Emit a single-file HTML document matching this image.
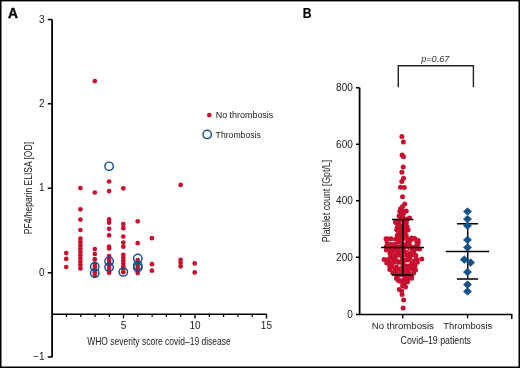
<!DOCTYPE html>
<html><head><meta charset="utf-8"><style>
html,body{margin:0;padding:0;background:#fff;}
svg{display:block;will-change:transform;}
text{font-family:"Liberation Sans",sans-serif;}
</style></head><body>
<svg width="520" height="368" viewBox="0 0 520 368">
<rect x="0" y="0" width="520" height="368" fill="#fff"/>
<!-- border -->
<rect x="0" y="0" width="520" height="1.4" fill="#000"/>
<rect x="0" y="0" width="1.5" height="368" fill="#000"/>
<rect x="518.5" y="0" width="1.5" height="368" fill="#000"/>
<rect x="0" y="366.5" width="520" height="1.5" fill="#000"/>
<text x="8" y="18.1" font-size="14" font-weight="bold" stroke="#000" stroke-width="0.35" textLength="10" lengthAdjust="spacingAndGlyphs">A</text>
<text x="302.7" y="17.8" font-size="14" font-weight="bold" stroke="#000" stroke-width="0.2" textLength="8.8" lengthAdjust="spacingAndGlyphs">B</text>
<!-- Panel A axes -->
<g stroke="#000" fill="none">
<path d="M52.1 19.5V357.2" stroke-width="1.8"/>
<path d="M47.8 19.5H52.1M47.8 103.8H52.1M47.8 188.2H52.1M47.8 272.7H52.1M47.8 357.1H52.1" stroke-width="1.5"/>
<path d="M52.1 314.3H266.6" stroke-width="1.6"/>
<path d="M123.5 314H123.5V318.4M195 314V318.4M266.5 314V318.4" stroke-width="1.4"/>
<path d="M66.5 314V317.1M80.8 314V317.1M95.1 314V317.1M109.3 314V317.1M137.8 314V317.1M152.1 314V317.1M166.4 314V317.1M180.7 314V317.1M209.3 314V317.1M223.6 314V317.1M237.9 314V317.1M252.2 314V317.1" stroke-width="1.2"/>
</g>
<g font-size="10" fill="#1a1a1a" text-anchor="end">
<text x="44.6" y="22.6">3</text>
<text x="44.6" y="106.9">2</text>
<text x="44.6" y="191.3">1</text>
<text x="44.6" y="275.8">0</text>
<text x="44.6" y="360.2">−1</text>
</g>
<g font-size="10" fill="#1a1a1a" text-anchor="middle">
<text x="123.6" y="329.3">5</text>
<text x="195.1" y="329.3">10</text>
<text x="266.4" y="329.3">15</text>
</g>
<text x="87.2" y="344.9" font-size="11.4" fill="#1a1a1a" textLength="143.6" lengthAdjust="spacingAndGlyphs">WHO severity score covid–19 disease</text>
<text transform="translate(31.9 234.2) rotate(-90)" font-size="11.4" fill="#1a1a1a" textLength="92.2" lengthAdjust="spacingAndGlyphs">PF4/heparin ELISA [OD]</text>
<text x="215.7" y="117.9" font-size="9" fill="#1a1a1a" textLength="57.6" lengthAdjust="spacingAndGlyphs">No thrombosis</text>
<text x="215.6" y="137.7" font-size="9" fill="#1a1a1a" textLength="45.2" lengthAdjust="spacingAndGlyphs">Thrombosis</text>
<!-- Panel B axes -->
<g stroke="#000" fill="none">
<path d="M359.6 87.7V314.6" stroke-width="1.8"/>
<path d="M356 87.7H359.6M356 144.2H359.6M356 200.7H359.6M356 257.2H359.6M356 314.5H359.6" stroke-width="1.5"/>
<path d="M358.8 314.5H511.8V319" stroke-width="1.5"/>
<path d="M402.8 314.5V318.2M467.6 314.5V318.2" stroke-width="1.4"/>
</g>
<g font-size="10" fill="#1a1a1a" text-anchor="end">
<text x="352.8" y="91">800</text>
<text x="352.8" y="147.5">600</text>
<text x="352.8" y="204">400</text>
<text x="352.8" y="260.5">200</text>
<text x="352.8" y="317.6">0</text>
</g>
<text x="371.7" y="329.2" font-size="9.7" fill="#1a1a1a" textLength="62.2" lengthAdjust="spacingAndGlyphs">No thrombosis</text>
<text x="443.3" y="329.1" font-size="9.7" fill="#1a1a1a" textLength="49" lengthAdjust="spacingAndGlyphs">Thrombosis</text>
<text x="400.6" y="344.3" font-size="11.4" fill="#1a1a1a" textLength="70.4" lengthAdjust="spacingAndGlyphs">Covid–19 patients</text>
<text transform="translate(330.2 242.2) rotate(-90)" font-size="11.4" fill="#1a1a1a" textLength="82.4" lengthAdjust="spacingAndGlyphs">Platelet count [Gpt/L]</text>
<!-- p bracket -->
<path d="M398.3 87.3V65.8H473.4V87.3" stroke="#222" stroke-width="1.4" fill="none"/>
<text x="421.2" y="62.4" font-size="9" font-style="italic" fill="#333" textLength="28.2" lengthAdjust="spacingAndGlyphs">p=0.67</text>
<!-- dots -->
<circle cx="66.2" cy="253.1" r="2.35" fill="#c8102e"/>
<circle cx="66.2" cy="258.9" r="2.35" fill="#c8102e"/>
<circle cx="66.2" cy="267.0" r="2.35" fill="#c8102e"/>
<circle cx="80.4" cy="188.1" r="2.35" fill="#c8102e"/>
<circle cx="80.4" cy="209.3" r="2.35" fill="#c8102e"/>
<circle cx="80.4" cy="219.6" r="2.35" fill="#c8102e"/>
<circle cx="80.4" cy="230.0" r="2.35" fill="#c8102e"/>
<circle cx="80.4" cy="238.7" r="2.35" fill="#c8102e"/>
<circle cx="80.4" cy="242.0" r="2.35" fill="#c8102e"/>
<circle cx="80.4" cy="245.3" r="2.35" fill="#c8102e"/>
<circle cx="80.4" cy="248.6" r="2.35" fill="#c8102e"/>
<circle cx="80.4" cy="251.9" r="2.35" fill="#c8102e"/>
<circle cx="80.4" cy="255.2" r="2.35" fill="#c8102e"/>
<circle cx="80.4" cy="258.5" r="2.35" fill="#c8102e"/>
<circle cx="80.4" cy="261.8" r="2.35" fill="#c8102e"/>
<circle cx="80.4" cy="265.1" r="2.35" fill="#c8102e"/>
<circle cx="80.4" cy="268.4" r="2.35" fill="#c8102e"/>
<circle cx="94.8" cy="81.1" r="2.35" fill="#c8102e"/>
<circle cx="94.8" cy="192.5" r="2.35" fill="#c8102e"/>
<circle cx="94.8" cy="249.1" r="2.35" fill="#c8102e"/>
<circle cx="94.8" cy="254.0" r="2.35" fill="#c8102e"/>
<circle cx="94.8" cy="259.2" r="2.35" fill="#c8102e"/>
<circle cx="94.8" cy="263.7" r="2.35" fill="#c8102e"/>
<circle cx="94.8" cy="266.7" r="2.35" fill="#c8102e"/>
<circle cx="94.8" cy="269.7" r="2.35" fill="#c8102e"/>
<circle cx="94.8" cy="272.5" r="2.35" fill="#c8102e"/>
<circle cx="94.8" cy="275.0" r="2.35" fill="#c8102e"/>
<circle cx="109.1" cy="181.5" r="2.35" fill="#c8102e"/>
<circle cx="109.1" cy="191.1" r="2.35" fill="#c8102e"/>
<circle cx="109.1" cy="219.4" r="2.35" fill="#c8102e"/>
<circle cx="109.1" cy="222.7" r="2.35" fill="#c8102e"/>
<circle cx="109.1" cy="228.8" r="2.35" fill="#c8102e"/>
<circle cx="109.1" cy="235.3" r="2.35" fill="#c8102e"/>
<circle cx="109.1" cy="246.5" r="2.35" fill="#c8102e"/>
<circle cx="109.1" cy="248.5" r="2.35" fill="#c8102e"/>
<circle cx="109.1" cy="256.0" r="2.35" fill="#c8102e"/>
<circle cx="109.1" cy="258.4" r="2.35" fill="#c8102e"/>
<circle cx="109.1" cy="260.8" r="2.35" fill="#c8102e"/>
<circle cx="109.1" cy="263.2" r="2.35" fill="#c8102e"/>
<circle cx="109.1" cy="265.6" r="2.35" fill="#c8102e"/>
<circle cx="109.1" cy="268.0" r="2.35" fill="#c8102e"/>
<circle cx="109.1" cy="270.4" r="2.35" fill="#c8102e"/>
<circle cx="109.1" cy="272.8" r="2.35" fill="#c8102e"/>
<circle cx="123.3" cy="188.3" r="2.35" fill="#c8102e"/>
<circle cx="123.3" cy="224.0" r="2.35" fill="#c8102e"/>
<circle cx="123.3" cy="228.2" r="2.35" fill="#c8102e"/>
<circle cx="123.3" cy="236.5" r="2.35" fill="#c8102e"/>
<circle cx="123.3" cy="242.6" r="2.35" fill="#c8102e"/>
<circle cx="123.3" cy="246.7" r="2.35" fill="#c8102e"/>
<circle cx="123.3" cy="254.8" r="2.35" fill="#c8102e"/>
<circle cx="123.3" cy="257.7" r="2.35" fill="#c8102e"/>
<circle cx="123.3" cy="260.6" r="2.35" fill="#c8102e"/>
<circle cx="123.3" cy="263.5" r="2.35" fill="#c8102e"/>
<circle cx="123.3" cy="266.4" r="2.35" fill="#c8102e"/>
<circle cx="123.3" cy="269.3" r="2.35" fill="#c8102e"/>
<circle cx="123.3" cy="272.2" r="2.35" fill="#c8102e"/>
<circle cx="137.7" cy="221.3" r="2.35" fill="#c8102e"/>
<circle cx="137.7" cy="243.2" r="2.35" fill="#c8102e"/>
<circle cx="137.7" cy="260.0" r="2.35" fill="#c8102e"/>
<circle cx="137.7" cy="263.6" r="2.35" fill="#c8102e"/>
<circle cx="137.7" cy="266.6" r="2.35" fill="#c8102e"/>
<circle cx="137.7" cy="269.6" r="2.35" fill="#c8102e"/>
<circle cx="137.7" cy="273.1" r="2.35" fill="#c8102e"/>
<circle cx="151.9" cy="238.2" r="2.35" fill="#c8102e"/>
<circle cx="151.9" cy="264.2" r="2.35" fill="#c8102e"/>
<circle cx="151.9" cy="270.7" r="2.35" fill="#c8102e"/>
<circle cx="180.6" cy="184.9" r="2.35" fill="#c8102e"/>
<circle cx="180.6" cy="259.8" r="2.35" fill="#c8102e"/>
<circle cx="180.6" cy="263.0" r="2.35" fill="#c8102e"/>
<circle cx="180.6" cy="266.3" r="2.35" fill="#c8102e"/>
<circle cx="194.7" cy="263.4" r="2.35" fill="#c8102e"/>
<circle cx="194.7" cy="272.4" r="2.35" fill="#c8102e"/>
<circle cx="94.8" cy="266.7" r="4.2" fill="none" stroke="#13518d" stroke-width="1.45"/>
<circle cx="94.8" cy="273.3" r="4.2" fill="none" stroke="#13518d" stroke-width="1.45"/>
<circle cx="109.1" cy="166.3" r="4.2" fill="none" stroke="#13518d" stroke-width="1.45"/>
<circle cx="109.1" cy="261.3" r="4.2" fill="none" stroke="#13518d" stroke-width="1.45"/>
<circle cx="109.1" cy="267.2" r="4.2" fill="none" stroke="#13518d" stroke-width="1.45"/>
<circle cx="123.3" cy="271.9" r="4.2" fill="none" stroke="#13518d" stroke-width="1.45"/>
<circle cx="137.8" cy="258.4" r="4.2" fill="none" stroke="#13518d" stroke-width="1.45"/>
<circle cx="137.8" cy="265.6" r="4.2" fill="none" stroke="#13518d" stroke-width="1.45"/>
<circle cx="137.8" cy="267.6" r="4.2" fill="none" stroke="#13518d" stroke-width="1.45"/>
<circle cx="209.3" cy="115.1" r="2.35" fill="#c8102e"/>
<circle cx="207.2" cy="134.4" r="4.2" fill="none" stroke="#13518d" stroke-width="1.45"/>
<circle cx="401.9" cy="136.5" r="2.5" fill="#c8102e"/>
<circle cx="403.4" cy="142.1" r="2.5" fill="#c8102e"/>
<circle cx="402.1" cy="155.0" r="2.5" fill="#c8102e"/>
<circle cx="403.5" cy="156.8" r="2.5" fill="#c8102e"/>
<circle cx="403.2" cy="166.9" r="2.5" fill="#c8102e"/>
<circle cx="401.9" cy="172.3" r="2.5" fill="#c8102e"/>
<circle cx="403.5" cy="178.3" r="2.5" fill="#c8102e"/>
<circle cx="401.8" cy="181.6" r="2.5" fill="#c8102e"/>
<circle cx="400.5" cy="187.2" r="2.5" fill="#c8102e"/>
<circle cx="404.3" cy="187.5" r="2.5" fill="#c8102e"/>
<circle cx="402.5" cy="196.8" r="2.5" fill="#c8102e"/>
<circle cx="404.7" cy="203.9" r="2.5" fill="#c8102e"/>
<circle cx="402.6" cy="206.4" r="2.5" fill="#c8102e"/>
<circle cx="400.6" cy="208.8" r="2.5" fill="#c8102e"/>
<circle cx="399.8" cy="211.5" r="2.5" fill="#c8102e"/>
<circle cx="402.5" cy="210.4" r="2.5" fill="#c8102e"/>
<circle cx="406.3" cy="211.0" r="2.5" fill="#c8102e"/>
<circle cx="403.6" cy="213.2" r="2.5" fill="#c8102e"/>
<circle cx="399.0" cy="216.1" r="2.5" fill="#c8102e"/>
<circle cx="402.2" cy="215.3" r="2.5" fill="#c8102e"/>
<circle cx="409.6" cy="218.0" r="2.5" fill="#c8102e"/>
<circle cx="407.4" cy="218.9" r="2.5" fill="#c8102e"/>
<circle cx="396.0" cy="221.3" r="2.5" fill="#c8102e"/>
<circle cx="399.2" cy="221.8" r="2.5" fill="#c8102e"/>
<circle cx="405.8" cy="221.3" r="2.5" fill="#c8102e"/>
<circle cx="400.9" cy="219.1" r="2.5" fill="#c8102e"/>
<circle cx="403.3" cy="218.0" r="2.5" fill="#c8102e"/>
<circle cx="395.6" cy="222.6" r="2.5" fill="#c8102e"/>
<circle cx="398.5" cy="224.3" r="2.5" fill="#c8102e"/>
<circle cx="397.3" cy="227.2" r="2.5" fill="#c8102e"/>
<circle cx="396.7" cy="229.8" r="2.5" fill="#c8102e"/>
<circle cx="399.6" cy="229.5" r="2.5" fill="#c8102e"/>
<circle cx="404.2" cy="228.3" r="2.5" fill="#c8102e"/>
<circle cx="407.7" cy="229.8" r="2.5" fill="#c8102e"/>
<circle cx="399.0" cy="232.4" r="2.5" fill="#c8102e"/>
<circle cx="397.3" cy="235.3" r="2.5" fill="#c8102e"/>
<circle cx="400.2" cy="236.4" r="2.5" fill="#c8102e"/>
<circle cx="386.0" cy="238.7" r="2.5" fill="#c8102e"/>
<circle cx="391.0" cy="238.7" r="2.5" fill="#c8102e"/>
<circle cx="388.4" cy="238.9" r="2.5" fill="#c8102e"/>
<circle cx="395.6" cy="239.3" r="2.5" fill="#c8102e"/>
<circle cx="404.8" cy="223.7" r="2.5" fill="#c8102e"/>
<circle cx="405.4" cy="236.4" r="2.5" fill="#c8102e"/>
<circle cx="404.2" cy="232.4" r="2.5" fill="#c8102e"/>
<circle cx="406.3" cy="222.6" r="2.5" fill="#c8102e"/>
<circle cx="404.6" cy="225.5" r="2.5" fill="#c8102e"/>
<circle cx="408.1" cy="230.1" r="2.5" fill="#c8102e"/>
<circle cx="405.2" cy="233.0" r="2.5" fill="#c8102e"/>
<circle cx="406.3" cy="235.8" r="2.5" fill="#c8102e"/>
<circle cx="411.8" cy="238.0" r="2.5" fill="#c8102e"/>
<circle cx="414.7" cy="238.4" r="2.5" fill="#c8102e"/>
<circle cx="418.1" cy="240.4" r="2.5" fill="#c8102e"/>
<circle cx="408.7" cy="239.3" r="2.5" fill="#c8102e"/>
<circle cx="403.5" cy="239.3" r="2.5" fill="#c8102e"/>
<circle cx="402.0" cy="226.0" r="2.5" fill="#c8102e"/>
<circle cx="401.5" cy="232.0" r="2.5" fill="#c8102e"/>
<circle cx="402.5" cy="236.0" r="2.5" fill="#c8102e"/>
<circle cx="398.0" cy="239.5" r="2.5" fill="#c8102e"/>
<circle cx="401.0" cy="240.0" r="2.5" fill="#c8102e"/>
<circle cx="407.0" cy="226.5" r="2.5" fill="#c8102e"/>
<circle cx="398.3" cy="280.5" r="2.5" fill="#c8102e"/>
<circle cx="400.7" cy="281.5" r="2.5" fill="#c8102e"/>
<circle cx="407.4" cy="281.9" r="2.5" fill="#c8102e"/>
<circle cx="402.6" cy="285.7" r="2.5" fill="#c8102e"/>
<circle cx="405.5" cy="287.1" r="2.5" fill="#c8102e"/>
<circle cx="399.3" cy="289.5" r="2.5" fill="#c8102e"/>
<circle cx="401.7" cy="291.0" r="2.5" fill="#c8102e"/>
<circle cx="402.1" cy="294.5" r="2.5" fill="#c8102e"/>
<circle cx="403.6" cy="300.0" r="2.5" fill="#c8102e"/>
<circle cx="403.1" cy="308.1" r="2.5" fill="#c8102e"/>
<circle cx="410.6" cy="277.5" r="2.5" fill="#c8102e"/>
<circle cx="404.0" cy="283.5" r="2.5" fill="#c8102e"/>
<circle cx="396.5" cy="278.5" r="2.5" fill="#c8102e"/>
<circle cx="399.2" cy="277.8" r="2.5" fill="#c8102e"/>
<circle cx="404.5" cy="279.2" r="2.5" fill="#c8102e"/>
<circle cx="407.6" cy="279.8" r="2.5" fill="#c8102e"/>
<circle cx="411.6" cy="278.3" r="2.5" fill="#c8102e"/>
<circle cx="402.5" cy="242.6" r="2.5" fill="#c8102e"/>
<circle cx="406.8" cy="242.6" r="2.5" fill="#c8102e"/>
<circle cx="411.4" cy="241.9" r="2.5" fill="#c8102e"/>
<circle cx="414.8" cy="243.0" r="2.5" fill="#c8102e"/>
<circle cx="398.3" cy="242.1" r="2.5" fill="#c8102e"/>
<circle cx="395.0" cy="242.5" r="2.5" fill="#c8102e"/>
<circle cx="390.6" cy="242.5" r="2.5" fill="#c8102e"/>
<circle cx="387.2" cy="242.0" r="2.5" fill="#c8102e"/>
<circle cx="418.2" cy="243.0" r="2.5" fill="#c8102e"/>
<circle cx="404.9" cy="246.2" r="2.5" fill="#c8102e"/>
<circle cx="409.3" cy="245.3" r="2.5" fill="#c8102e"/>
<circle cx="413.6" cy="246.0" r="2.5" fill="#c8102e"/>
<circle cx="417.3" cy="245.2" r="2.5" fill="#c8102e"/>
<circle cx="401.1" cy="245.9" r="2.5" fill="#c8102e"/>
<circle cx="396.8" cy="246.4" r="2.5" fill="#c8102e"/>
<circle cx="392.6" cy="246.5" r="2.5" fill="#c8102e"/>
<circle cx="388.0" cy="246.3" r="2.5" fill="#c8102e"/>
<circle cx="386.3" cy="246.5" r="2.5" fill="#c8102e"/>
<circle cx="403.3" cy="248.7" r="2.5" fill="#c8102e"/>
<circle cx="406.6" cy="248.9" r="2.5" fill="#c8102e"/>
<circle cx="411.8" cy="249.2" r="2.5" fill="#c8102e"/>
<circle cx="415.6" cy="249.0" r="2.5" fill="#c8102e"/>
<circle cx="419.6" cy="249.1" r="2.5" fill="#c8102e"/>
<circle cx="398.4" cy="249.4" r="2.5" fill="#c8102e"/>
<circle cx="394.5" cy="249.9" r="2.5" fill="#c8102e"/>
<circle cx="390.4" cy="249.9" r="2.5" fill="#c8102e"/>
<circle cx="386.4" cy="250.0" r="2.5" fill="#c8102e"/>
<circle cx="405.1" cy="252.2" r="2.5" fill="#c8102e"/>
<circle cx="409.5" cy="253.4" r="2.5" fill="#c8102e"/>
<circle cx="413.8" cy="252.8" r="2.5" fill="#c8102e"/>
<circle cx="401.0" cy="252.3" r="2.5" fill="#c8102e"/>
<circle cx="396.9" cy="252.8" r="2.5" fill="#c8102e"/>
<circle cx="392.0" cy="252.1" r="2.5" fill="#c8102e"/>
<circle cx="390.0" cy="253.4" r="2.5" fill="#c8102e"/>
<circle cx="402.3" cy="256.5" r="2.5" fill="#c8102e"/>
<circle cx="406.9" cy="255.6" r="2.5" fill="#c8102e"/>
<circle cx="411.0" cy="256.5" r="2.5" fill="#c8102e"/>
<circle cx="415.8" cy="255.5" r="2.5" fill="#c8102e"/>
<circle cx="398.7" cy="255.5" r="2.5" fill="#c8102e"/>
<circle cx="394.7" cy="255.9" r="2.5" fill="#c8102e"/>
<circle cx="390.7" cy="256.8" r="2.5" fill="#c8102e"/>
<circle cx="404.9" cy="260.2" r="2.5" fill="#c8102e"/>
<circle cx="408.9" cy="258.9" r="2.5" fill="#c8102e"/>
<circle cx="413.4" cy="258.8" r="2.5" fill="#c8102e"/>
<circle cx="417.1" cy="259.4" r="2.5" fill="#c8102e"/>
<circle cx="421.8" cy="259.0" r="2.5" fill="#c8102e"/>
<circle cx="400.2" cy="260.0" r="2.5" fill="#c8102e"/>
<circle cx="396.3" cy="260.1" r="2.5" fill="#c8102e"/>
<circle cx="392.8" cy="259.3" r="2.5" fill="#c8102e"/>
<circle cx="388.1" cy="259.5" r="2.5" fill="#c8102e"/>
<circle cx="384.1" cy="259.6" r="2.5" fill="#c8102e"/>
<circle cx="402.9" cy="263.1" r="2.5" fill="#c8102e"/>
<circle cx="407.5" cy="262.9" r="2.5" fill="#c8102e"/>
<circle cx="411.1" cy="263.2" r="2.5" fill="#c8102e"/>
<circle cx="415.1" cy="262.6" r="2.5" fill="#c8102e"/>
<circle cx="399.2" cy="262.9" r="2.5" fill="#c8102e"/>
<circle cx="394.5" cy="262.2" r="2.5" fill="#c8102e"/>
<circle cx="390.1" cy="263.0" r="2.5" fill="#c8102e"/>
<circle cx="386.7" cy="263.1" r="2.5" fill="#c8102e"/>
<circle cx="417.3" cy="262.3" r="2.5" fill="#c8102e"/>
<circle cx="405.1" cy="266.3" r="2.5" fill="#c8102e"/>
<circle cx="409.3" cy="266.1" r="2.5" fill="#c8102e"/>
<circle cx="413.5" cy="266.6" r="2.5" fill="#c8102e"/>
<circle cx="400.1" cy="265.7" r="2.5" fill="#c8102e"/>
<circle cx="396.7" cy="266.9" r="2.5" fill="#c8102e"/>
<circle cx="392.0" cy="266.2" r="2.5" fill="#c8102e"/>
<circle cx="389.6" cy="266.0" r="2.5" fill="#c8102e"/>
<circle cx="415.0" cy="266.0" r="2.5" fill="#c8102e"/>
<circle cx="402.6" cy="269.8" r="2.5" fill="#c8102e"/>
<circle cx="406.8" cy="269.5" r="2.5" fill="#c8102e"/>
<circle cx="411.5" cy="269.0" r="2.5" fill="#c8102e"/>
<circle cx="415.5" cy="270.0" r="2.5" fill="#c8102e"/>
<circle cx="398.4" cy="269.3" r="2.5" fill="#c8102e"/>
<circle cx="394.8" cy="269.3" r="2.5" fill="#c8102e"/>
<circle cx="389.8" cy="269.6" r="2.5" fill="#c8102e"/>
<circle cx="405.1" cy="272.5" r="2.5" fill="#c8102e"/>
<circle cx="408.9" cy="272.9" r="2.5" fill="#c8102e"/>
<circle cx="413.7" cy="273.0" r="2.5" fill="#c8102e"/>
<circle cx="401.1" cy="272.6" r="2.5" fill="#c8102e"/>
<circle cx="396.3" cy="273.3" r="2.5" fill="#c8102e"/>
<circle cx="392.8" cy="273.0" r="2.5" fill="#c8102e"/>
<circle cx="402.5" cy="276.0" r="2.5" fill="#c8102e"/>
<circle cx="407.0" cy="276.1" r="2.5" fill="#c8102e"/>
<circle cx="411.6" cy="277.0" r="2.5" fill="#c8102e"/>
<circle cx="398.2" cy="276.2" r="2.5" fill="#c8102e"/>
<circle cx="396.8" cy="276.7" r="2.5" fill="#c8102e"/>
<ellipse cx="413.2" cy="243.3" rx="1.6" ry="2.0" fill="#fff"/>
<ellipse cx="404.4" cy="241.6" rx="1.0" ry="0.8" fill="#fff"/>
<ellipse cx="406.9" cy="249.4" rx="1.0" ry="0.8" fill="#fff"/>
<ellipse cx="392" cy="241.6" rx="4" ry="0.6" fill="#fff"/>
<ellipse cx="399" cy="258.5" rx="1.2" ry="1.0" fill="#fff"/>
<ellipse cx="399.5" cy="265.5" rx="1.2" ry="1.0" fill="#fff"/>
<ellipse cx="407.5" cy="263" rx="2.5" ry="0.7" fill="#fff"/>
<ellipse cx="413" cy="258" rx="1.0" ry="1.0" fill="#fff"/>
<ellipse cx="401" cy="277.5" rx="1.5" ry="0.8" fill="#fff"/>
<!-- error bars -->
<g stroke="#000" fill="none" stroke-width="1.5">
<path d="M402.8 219.6V275M392 219.6H413.4M392 275H413.4M381 247.6H424"/>
<path d="M467.7 223.8V279.1M456.9 223.8H478.1M456.9 279.1H478.1M445.8 251.6H489.2"/>
</g>
<path d="M467.5 207.7L471.6 211.5L467.5 215.3L463.4 211.5Z" fill="#13518d" stroke="#0f4a85" stroke-width="0.6"/>
<path d="M467.5 215.3L471.6 219.1L467.5 222.9L463.4 219.1Z" fill="#13518d" stroke="#0f4a85" stroke-width="0.6"/>
<path d="M467.5 221.9L471.6 225.7L467.5 229.5L463.4 225.7Z" fill="#13518d" stroke="#0f4a85" stroke-width="0.6"/>
<path d="M467.5 236.1L471.6 239.9L467.5 243.7L463.4 239.9Z" fill="#13518d" stroke="#0f4a85" stroke-width="0.6"/>
<path d="M467.5 243.7L471.6 247.5L467.5 251.3L463.4 247.5Z" fill="#13518d" stroke="#0f4a85" stroke-width="0.6"/>
<path d="M464.3 255.8L468.4 259.6L464.3 263.4L460.2 259.6Z" fill="#13518d" stroke="#0f4a85" stroke-width="0.6"/>
<path d="M470.6 258.8L474.7 262.6L470.6 266.4L466.5 262.6Z" fill="#13518d" stroke="#0f4a85" stroke-width="0.6"/>
<path d="M467.5 268.3L471.6 272.1L467.5 275.9L463.4 272.1Z" fill="#13518d" stroke="#0f4a85" stroke-width="0.6"/>
<path d="M467.5 280.8L471.6 284.6L467.5 288.4L463.4 284.6Z" fill="#13518d" stroke="#0f4a85" stroke-width="0.6"/>
<path d="M467.5 287.6L471.6 291.4L467.5 295.2L463.4 291.4Z" fill="#13518d" stroke="#0f4a85" stroke-width="0.6"/>
</svg>
</body></html>
